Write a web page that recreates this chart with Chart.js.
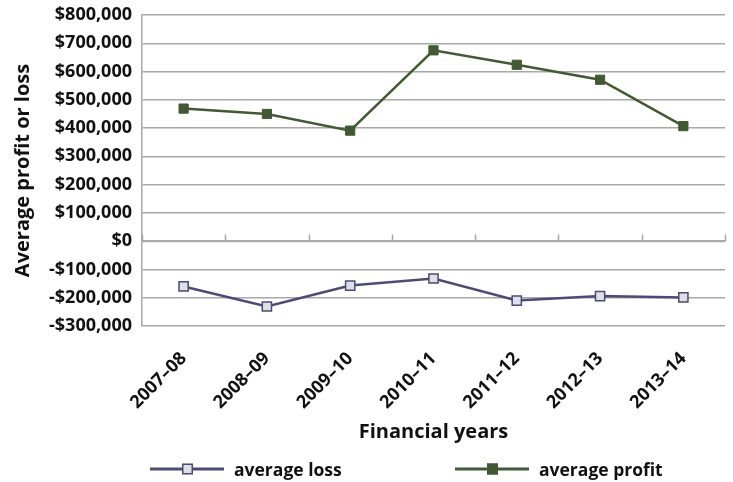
<!DOCTYPE html>
<html>
<head>
<meta charset="utf-8">
<script src="https://cdn.jsdelivr.net/npm/chart.js@4"></script>
<style>
  html, body { margin: 0; padding: 0; background: #fff; }
  #wrap { position: relative; width: 733px; height: 482px; }
  #legend {
    position: absolute; left: 0; top: 456px; width: 733px; height: 26px;
    font: bold 17.5px "Open Sans", "DejaVu Sans", sans-serif; color: #111;
  }
  .item { position: absolute; top: 0; display: flex; align-items: center; height: 26px; }
  .item canvas { margin-right: 10px; }
</style>
</head>
<body>
<div id="wrap">
  <canvas id="chart"></canvas>
  <div id="legend"></div>
</div>
<script>
// ─── Data ───
const YEARS  = ['2007–08', '2008–09', '2009–10', '2010–11', '2011–12', '2012–13', '2013–14'];
const LOSS   = [-160000, -231000, -157000, -132000, -210000, -194000, -199000];
const PROFIT = [469000, 450000, 391000, 675000, 624000, 571000, 407000];

const COLORS = {
  loss: '#4d4a78', lossFill: '#dfdfe6',
  profit: '#415a33', grid: '#a8a8a8', text: '#111',
};
const FONT = '"Open Sans", "DejaVu Sans", sans-serif';

// legend swatch: line with square marker in the middle
function swatch(line, fill) {
  const c = document.createElement('canvas');
  c.width = 74; c.height = 14;
  const g = c.getContext('2d');
  g.strokeStyle = line; g.lineWidth = 3;
  g.beginPath(); g.moveTo(0, 7); g.lineTo(74, 7); g.stroke();
  g.fillStyle = fill; g.fillRect(32, 1.5, 11, 11);
  g.lineWidth = 1.5; g.strokeRect(32.75, 2.25, 9.5, 9.5);
  return c;
}

function money(v) {
  const s = '$' + Math.abs(v).toLocaleString('en-US');
  return v < 0 ? '-' + s : s;
}

// ─── Zero axis line with tick marks between categories ───
const zeroAxis = {
  id: 'zeroAxis',
  beforeDatasetsDraw(chart) {
    const { ctx, chartArea, scales: { x, y } } = chart;
    const y0 = Math.round(y.getPixelForValue(0)) + 0.5;
    const half = (x.getPixelForValue(1) - x.getPixelForValue(0)) / 2;
    ctx.save();
    ctx.strokeStyle = COLORS.grid;
    ctx.lineWidth = 1.5;
    ctx.beginPath();
    ctx.moveTo(chartArea.left, y0); ctx.lineTo(chartArea.right, y0);
    for (let i = 0; i <= YEARS.length; i++) {
      const px = Math.round(x.getPixelForValue(i) - half) + 0.5;
      ctx.moveTo(px, y0); ctx.lineTo(px, y0 - 7);
    }
    ctx.stroke();
    ctx.restore();
  },
};

Chart.defaults.font.family = FONT;
Chart.defaults.font.weight = 'bold';
Chart.defaults.color = COLORS.text;

const chart = new Chart(document.getElementById('chart'), {
  type: 'line',
  data: {
    labels: YEARS,
    datasets: [
      {
        label: 'average loss',
        data: LOSS,
        borderColor: COLORS.loss,
        borderWidth: 2.5,
        pointStyle: 'rect',
        pointRadius: 6.5,
        pointBorderWidth: 1.5,
        pointBorderColor: COLORS.loss,
        pointBackgroundColor: COLORS.lossFill,
        tension: 0,
      },
      {
        label: 'average profit',
        data: PROFIT,
        borderColor: COLORS.profit,
        borderWidth: 2.5,
        pointStyle: 'rect',
        pointRadius: 6.5,
        pointBorderWidth: 1,
        pointBorderColor: COLORS.profit,
        pointBackgroundColor: COLORS.profit,
        tension: 0,
      },
    ],
  },
  options: {
    responsive: true,
    maintainAspectRatio: false,
    animation: false,
    layout: { padding: { top: 0, right: 7, left: 11, bottom: 38 } },
    plugins: { tooltip: { enabled: false }, legend: { display: false } },
    scales: {
      x: {
        offset: true,
        grid: { display: false },
        border: { display: false },
        ticks: { autoSkip: false, maxRotation: 45, minRotation: 45, padding: 14, font: { size: 18, weight: 'bold' } },
        title: { display: true, text: 'Financial years', font: { size: 20, weight: 'bold' }, padding: 0 },
        afterFit(scale) { scale.height = 118; },
      },
      y: {
        min: -300000,
        max: 800000,
        ticks: { autoSkip: false, stepSize: 100000, callback: v => money(v), padding: 10, font: { size: 18, weight: 'bold' } },
        grid: { color: COLORS.grid, lineWidth: 1.5, drawTicks: false },
        border: { display: true, color: COLORS.grid, width: 1.5 },
        title: { display: true, text: 'Average profit or loss', font: { size: 20, weight: 'bold' }, padding: { top: 0, bottom: 4 } },
        afterFit(scale) { scale.paddingTop = 15; },
      },
    },
  },
  plugins: [zeroAxis],
});

// ─── HTML legend ───
const legend = document.getElementById('legend');
const LEGEND_X = [150, 455];
chart.data.datasets.forEach((ds, i) => {
  const item = document.createElement('div');
  item.className = 'item';
  item.style.left = LEGEND_X[i] + 'px';
  item.appendChild(swatch(ds.borderColor, ds.pointBackgroundColor));
  const label = document.createElement('span');
  label.textContent = ds.label;
  item.appendChild(label);
  legend.appendChild(item);
});
</script>
</body>
</html>
